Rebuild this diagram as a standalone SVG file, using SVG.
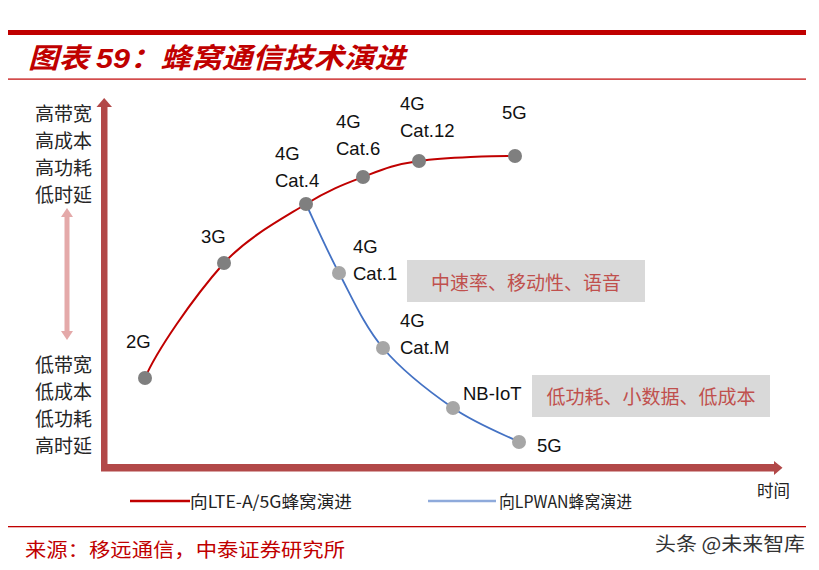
<svg xmlns="http://www.w3.org/2000/svg" width="819" height="570" viewBox="0 0 819 570">
<style>
.cjk{font-family:"Noto Sans CJK SC","Liberation Sans",sans-serif}
.lab{font-family:"Liberation Sans","Noto Sans CJK SC",sans-serif;font-size:18.5px;fill:#111}
.side{font-family:"Noto Sans CJK SC",sans-serif;font-size:19px;fill:#262626}
.dk{fill:#7f7f7f}
.lt{fill:#a6a6a6}
.box{fill:#d9d9d9}
.boxt{font-family:"Noto Sans CJK SC",sans-serif;font-size:19px;fill:#c0504d}
</style>
<rect width="819" height="570" fill="#fff"/>
<g id="header">
<rect x="8" y="30" width="798" height="5" fill="#c00000"/>
<text x="28" y="68" class="cjk" font-size="28" font-weight="bold" font-style="italic" fill="#c00000" textLength="377" lengthAdjust="spacingAndGlyphs">图表 <tspan font-family="Liberation Sans">59</tspan>：蜂窝通信技术演进</text>
<rect x="8" y="78.5" width="798" height="1.2" fill="#c00000"/>
</g>
<g id="axes">
<rect x="101" y="106" width="6.5" height="365" fill="#b24848"/>
<polygon points="96.5,107 104.2,98 112,107" fill="#b24848"/>
<rect x="101" y="464" width="674" height="7.5" fill="#b24848"/>
<polygon points="774,461 782.5,467.7 774,475" fill="#b24848"/>
<text x="757" y="497" class="cjk" font-size="16.5" fill="#222">时间</text>
</g>
<g id="side-labels">
<text class="side" x="35" y="121">高带宽</text>
<text class="side" x="35" y="148">高成本</text>
<text class="side" x="35" y="175">高功耗</text>
<text class="side" x="35" y="202">低时延</text>
<rect x="64.5" y="215" width="5" height="118" fill="#e4a9a9"/>
<polygon points="61,217 67,208 73,217" fill="#e4a9a9"/>
<polygon points="61,331 67,340 73,331" fill="#e4a9a9"/>
<text class="side" x="35" y="372">低带宽</text>
<text class="side" x="35" y="399">低成本</text>
<text class="side" x="35" y="426">低功耗</text>
<text class="side" x="35" y="453">高时延</text>
</g>
<g id="connectors" fill="none" stroke-width="2">
<path stroke="#c00000" d="M145,378 C156,352 192,299 224,263 C248,237 280,220 306,204 C329.2,189.7 344.2,184.2 363,177 C381.8,169.8 393.7,164.5 419,161 C444.3,157.5 499,155.5 515,156"/>
<path stroke="#4472c4" stroke-width="1.8" d="M306,204 C311.5,215.5 326.2,249 339,273 C351.8,297 364,325.5 383,348 C402,370.5 430.3,392.3 453,408 C475.7,423.7 508,436.3 519,442"/>
</g>
<g id="n-2g"><circle class="dk" cx="145" cy="378" r="7"/><text class="lab" x="126" y="348">2G</text></g>
<g id="n-3g"><circle class="dk" cx="224" cy="263" r="7"/><text class="lab" x="201" y="243">3G</text></g>
<g id="n-cat4"><circle class="dk" cx="306" cy="204" r="7"/><text class="lab" x="275" y="160">4G</text><text class="lab" x="275" y="187">Cat.4</text></g>
<g id="n-cat6"><circle class="dk" cx="363" cy="177" r="7"/><text class="lab" x="336" y="128">4G</text><text class="lab" x="336" y="155">Cat.6</text></g>
<g id="n-cat12"><circle class="dk" cx="419" cy="161" r="7"/><text class="lab" x="400" y="110">4G</text><text class="lab" x="400" y="137">Cat.12</text></g>
<g id="n-5g-a"><circle class="dk" cx="515" cy="156" r="7"/><text class="lab" x="502" y="119">5G</text></g>
<g id="n-cat1"><circle class="lt" cx="339" cy="273" r="7"/><text class="lab" x="353" y="253">4G</text><text class="lab" x="353" y="280">Cat.1</text></g>
<g id="n-catm"><circle class="lt" cx="383" cy="348" r="7"/><text class="lab" x="400" y="327">4G</text><text class="lab" x="400" y="354">Cat.M</text></g>
<g id="n-nbiot"><circle class="lt" cx="453" cy="408" r="7"/><text class="lab" x="463" y="400">NB-IoT</text></g>
<g id="n-5g-b"><circle class="lt" cx="519" cy="442" r="7"/><text class="lab" x="537" y="452">5G</text></g>
<g id="box-mid"><rect class="box" x="407" y="260" width="238" height="42"/><text class="boxt" x="526" y="290" text-anchor="middle">中速率、移动性、语音</text></g>
<g id="box-low"><rect class="box" x="532" y="375" width="238" height="42"/><text class="boxt" x="651" y="404" text-anchor="middle">低功耗、小数据、低成本</text></g>
<g id="legend">
<line x1="130" y1="501" x2="190" y2="501" stroke="#c00000" stroke-width="2.5"/>
<text x="190" y="508" class="cjk" font-size="17" fill="#222" textLength="162" lengthAdjust="spacingAndGlyphs">向LTE-A/5G蜂窝演进</text>
<line x1="428" y1="501" x2="496" y2="501" stroke="#8eaadb" stroke-width="2.5"/>
<text x="499" y="508" class="cjk" font-size="17" fill="#222" textLength="133" lengthAdjust="spacingAndGlyphs">向LPWAN蜂窝演进</text>
</g>
<g id="footer">
<rect x="8" y="526" width="798" height="1.3" fill="#c00000"/>
<text x="25" y="557" class="cjk" font-size="19" fill="#c00000" textLength="320" lengthAdjust="spacingAndGlyphs">来源：移远通信，中泰证券研究所</text>
<text x="655" y="551" class="cjk" font-size="19" fill="#333" textLength="150" lengthAdjust="spacingAndGlyphs">头条 @未来智库</text>
</g>
</svg>
